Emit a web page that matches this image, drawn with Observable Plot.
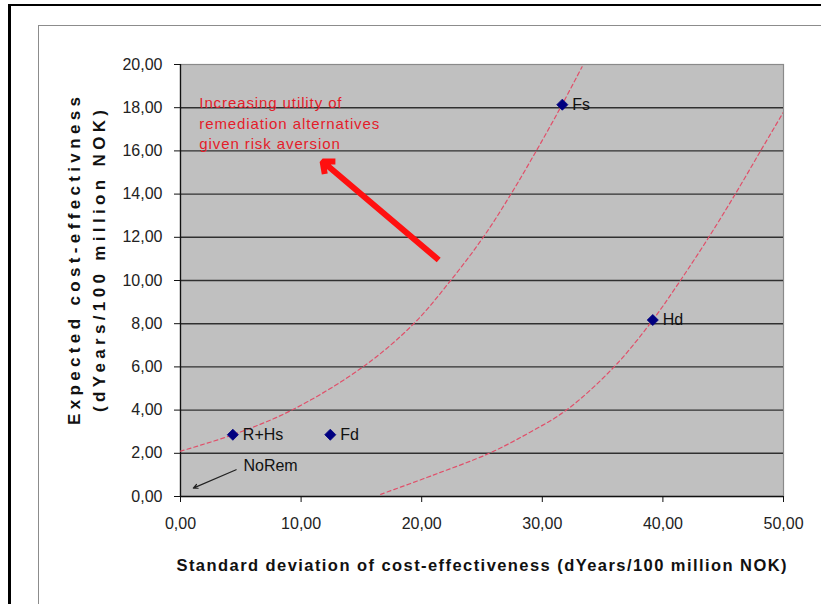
<!DOCTYPE html>
<html>
<head>
<meta charset="utf-8">
<script src="https://cdn.jsdelivr.net/npm/d3@7"></script>
<script src="https://cdn.jsdelivr.net/npm/@observablehq/plot@0.6"></script>
<style>
  html, body { margin: 0; padding: 0; background: #fff; }
  #wrap { position: relative; width: 821px; height: 604px; overflow: hidden; background: #fff; }
  #outer { position: absolute; left: 8px; top: 4px; width: 900px; height: 700px; border-left: 3px solid #000; border-top: 2px solid #000; pointer-events: none; }
  #inner { position: absolute; left: 38px; top: 25px; width: 900px; height: 700px; border-left: 1px solid #8c8c8c; border-top: 1px solid #8c8c8c; pointer-events: none; }
  #chart { position: absolute; left: 0; top: 0; }
</style>
</head>
<body>
<div id="wrap">
  <div id="outer"></div>
  <div id="inner"></div>
  <div id="chart"></div>
</div>
<script>
// ---- data ----
const xTicks = [0, 10, 20, 30, 40, 50];
const yTicks = [0, 2, 4, 6, 8, 10, 12, 14, 16, 18, 20];
const gridY = [2, 4, 6, 8, 10, 12, 14, 16, 18];

const pointLabels = ["R+Hs", "Fd", "Fs", "Hd"];
const pointX = [4.34, 12.42, 31.66, 39.16];
const pointY = [2.86, 2.86, 18.14, 8.17];

// indifference curves (dashed)
const curve1X = [0, 4.34, 9.23, 15.13, 19.34, 22.4, 25.1, 27.4, 29.5, 31.6, 33.3];
const curve1Y = [2.1, 2.86, 4.0, 6.0, 8.0, 10.0, 12.0, 14.0, 16.0, 18.1, 19.9];
const curve2X = [16.6, 21.0, 25.6, 28.9, 32.0, 35.95, 39.16, 41.45, 43.8, 46.0, 48.1, 50.0];
const curve2Y = [0.1, 1.0, 2.0, 2.95, 4.0, 6.0, 8.17, 10.0, 12.0, 14.0, 16.0, 17.8];

// annotations
const noteText = "Increasing utility of\nremediation alternatives\ngiven risk aversion";
const notePos = [1.56, 18.67];
const noteArrowFrom = [21.41, 10.95];
const noteArrowTo = [11.53, 15.63];
const noRemText = "NoRem";
const noRemPos = [5.22, 1.42];
const noRemArrowFrom = [4.61, 1.24];
const noRemArrowTo = [1.06, 0.39];

const xTitle = "Standard deviation of cost-effectiveness (dYears/100 million NOK)";
const yTitle1 = "Expected cost-effectivness";
const yTitle2 = "(dYears/100 million NOK)";

// ---- build tables ----
const points = pointLabels.map((label, i) => ({label, x: pointX[i], y: pointY[i]}));
const curves = [
  ...curve1X.map((x, i) => ({curve: "c1", x, y: curve1Y[i]})),
  ...curve2X.map((x, i) => ({curve: "c2", x, y: curve2Y[i]}))
];
const fmt = d => d.toFixed(2).replace(".", ",");
const FONT = "'Liberation Sans', Arial, Helvetica, sans-serif";

const svg = Plot.plot({
  width: 821,
  height: 604,
  marginLeft: 180,
  marginRight: 38,
  marginTop: 64,
  marginBottom: 108,
  style: {fontFamily: FONT, background: "transparent", color: "#222"},
  x: {domain: [0, 50]},
  y: {domain: [0, 20]},
  marks: [
    Plot.frame({fill: "#c0c0c0", stroke: "#8a8a8a", strokeWidth: 1.2}),
    Plot.ruleY(gridY, {stroke: "#303030", strokeWidth: 1.4}),
    Plot.ruleX([0], {stroke: "#111", strokeWidth: 1.3}),
    Plot.ruleY([0], {stroke: "#111", strokeWidth: 1.3}),
    Plot.axisX(xTicks, {tickSize: 6, tickPadding: 15, tickFormat: fmt, fontSize: 16, label: null, stroke: "#111"}),
    Plot.axisY(yTicks, {tickSize: 6, tickPadding: 12, tickFormat: fmt, fontSize: 16, label: null, stroke: "#111"}),
    Plot.line(curves, {x: "x", y: "y", z: "curve", curve: "catmull-rom", stroke: "#e0506a", strokeWidth: 1.2, strokeDasharray: "4,3", clip: true}),
    Plot.arrow([0], {x1: () => noteArrowFrom[0], y1: () => noteArrowFrom[1], x2: () => noteArrowTo[0], y2: () => noteArrowTo[1], stroke: "#ff1010", strokeWidth: 6, headLength: 3.2, headAngle: 80, strokeLinejoin: "miter", strokeLinecap: "butt", insetEnd: 4}),
    Plot.arrow([0], {x1: () => noRemArrowFrom[0], y1: () => noRemArrowFrom[1], x2: () => noRemArrowTo[0], y2: () => noRemArrowTo[1], stroke: "#222", strokeWidth: 1.2, headLength: 6, headAngle: 50}),
    Plot.dot(points, {x: "x", y: "y", symbol: "diamond2", r: 5, fill: "#000080", stroke: "#000080", strokeWidth: 0.8}),
    Plot.text(points, {x: "x", y: "y", text: "label", dx: 10, textAnchor: "start", fontSize: 16, fill: "#111"}),
    Plot.text([noRemText], {x: () => noRemPos[0], y: () => noRemPos[1], text: d => d, textAnchor: "start", fontSize: 16, fill: "#111"}),
    Plot.text([noteText], {x: () => notePos[0], y: () => notePos[1], text: d => d, textAnchor: "start", lineAnchor: "top", lineHeight: 1.38, fontSize: 15, fill: "#e41c2a"})
  ]
});

const s = d3.select(svg);
s.selectAll("text").filter(function() { return this.textContent.includes("Increasing"); })
  .style("letter-spacing", "0.9px");

s.append("text")
  .attr("x", 481.5).attr("y", 571)
  .attr("text-anchor", "middle")
  .attr("font-family", FONT).attr("font-weight", "bold").attr("font-size", 16.5)
  .attr("fill", "#111")
  .attr("textLength", 610).attr("lengthAdjust", "spacing")
  .text(xTitle);

s.append("text")
  .attr("transform", "translate(79.5,261) rotate(-90)")
  .attr("text-anchor", "middle")
  .attr("font-family", FONT).attr("font-weight", "bold").attr("font-size", 17)
  .attr("fill", "#111")
  .attr("textLength", 328).attr("lengthAdjust", "spacing")
  .text(yTitle1);

s.append("text")
  .attr("transform", "translate(104.5,261) rotate(-90)")
  .attr("text-anchor", "middle")
  .attr("font-family", FONT).attr("font-weight", "bold").attr("font-size", 17)
  .attr("fill", "#111")
  .attr("textLength", 302).attr("lengthAdjust", "spacing")
  .text(yTitle2);

document.getElementById("chart").appendChild(svg);
</script>
</body>
</html>
